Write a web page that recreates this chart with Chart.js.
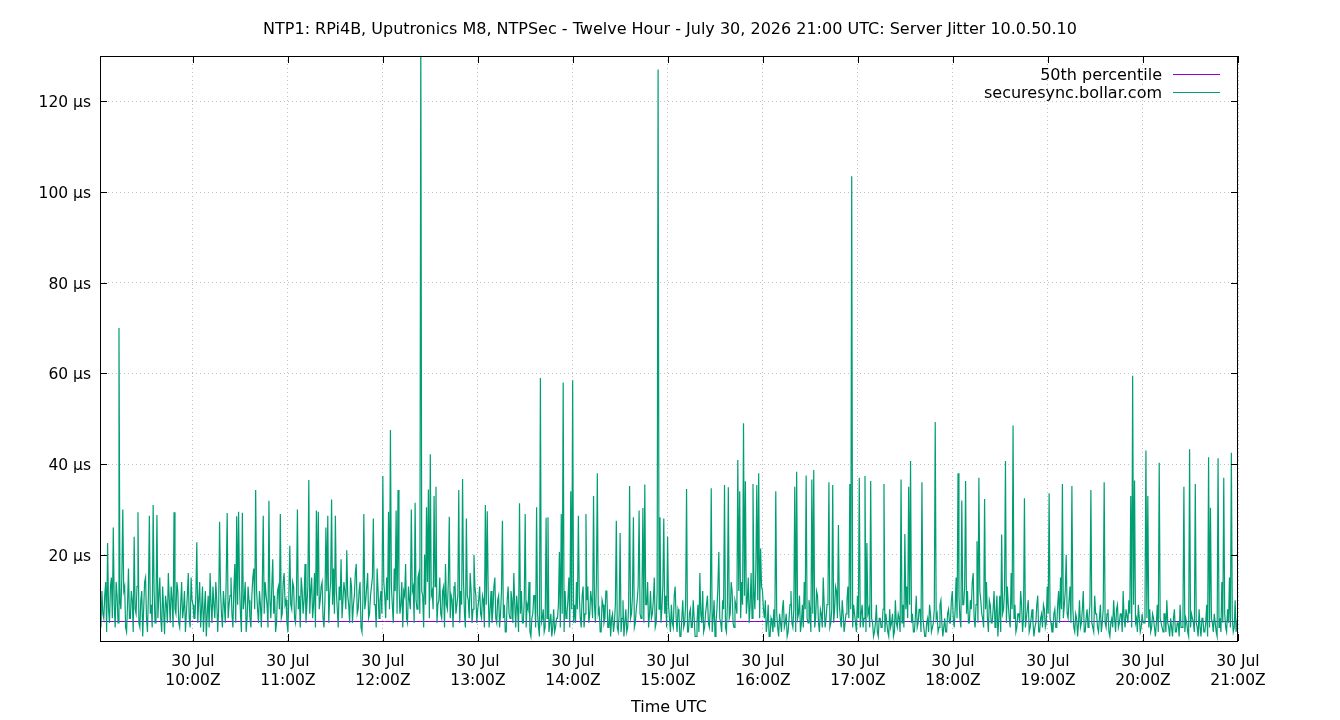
<!DOCTYPE html>
<html>
<head>
<meta charset="utf-8">
<title>Server Jitter 10.0.50.10</title>
<script src="https://cdn.jsdelivr.net/npm/chart.js@4.4.1/dist/chart.umd.min.js"></script>
<style>
    html, body { margin: 0; padding: 0; background: #fff; }
    canvas { display: block; }
</style>
</head>
<body>
<canvas id="jitterChart" width="1340" height="720"></canvas>
<script>
// Jitter samples in µs, one array per hour
const jitter09 = [9, 4, 12, 7, 6, 11, 14, 3, 22.6, 8, 5, 13, 15, 6, 26, 9, 4, 14, 11, 5,
    70, 10, 8, 15, 30, 12, 13, 4, 3, 9, 17, 6, 6, 12, 10, 3, 24, 8, 7, 13,
    29.4, 5, 4, 10, 12, 2, 8, 14, 15, 6, 3, 11, 28.6, 7, 9, 4, 31, 12, 5, 9,
    28.8, 6, 11, 15, 6, 3, 13, 8, 2.5, 11, 9, 5, 16, 10, 5, 13, 10, 4, 29.4, 8,
    7, 14, 12, 5, 4, 9, 14, 6, 8, 12, 3, 7, 11, 16, 6, 4, 15, 10, 9, 6];
const jitter10 = [6, 11, 22.8, 5, 10, 14, 4, 8, 13, 3, 8, 12, 2, 7, 11, 4, 16, 9, 5, 13,
    9, 6, 14, 10, 3, 8, 27.3, 12, 7, 4, 12, 9, 5, 15, 29.2, 6, 9, 11, 15, 7,
    4, 12, 18, 5, 28.5, 9, 29.5, 13, 7, 3, 29.3, 8, 10, 14, 3, 6, 13, 10, 6, 4,
    11, 15, 17, 8, 34.3, 12, 8, 5, 12, 9, 4, 13, 28.6, 7, 14, 11, 9, 4, 31.9, 10,
    6, 13, 19, 7, 11, 3, 5, 12, 13, 8, 29, 6, 7, 14, 16, 9, 10, 5, 3, 11];
const jitter11 = [22, 9, 8, 14, 13, 6, 5, 11, 30, 8, 11, 4, 15, 12, 7, 10, 18, 5, 9, 13,
    36.5, 7, 12, 15, 6, 9, 16, 4, 29.8, 11, 29.5, 8, 10, 13, 14, 6, 4, 10, 26, 12,
    28.6, 5, 11, 14, 32.2, 9, 17, 7, 28.6, 12, 8, 4, 13, 10, 19, 6, 6, 14, 12, 8,
    21, 11, 9, 5, 15, 13, 5, 9, 11, 16, 18, 7, 8, 12, 14, 4, 3, 10, 29, 8,
    10, 13, 16, 6, 7, 11, 13, 15, 28, 9, 9, 4, 17, 12, 6, 10, 12, 7, 37.4, 14];
const jitter12 = [11, 6, 15, 10, 29.5, 8, 47.5, 13, 9, 5, 17, 12, 29.8, 7, 34.3, 14, 7, 9, 14, 4,
    12, 11, 18, 6, 5, 13, 10, 8, 30, 12, 13, 5, 31.5, 10, 8, 15, 16, 7, 135, 12,
    11, 4, 20, 9, 30.5, 14, 34.4, 6, 42.2, 11, 12, 8, 33, 13, 35, 5, 9, 10, 15, 7,
    6, 12, 13, 4, 18, 9, 8, 14, 28.4, 6, 11, 10, 4, 13, 14, 7, 9, 11, 34.3, 5,
    12, 9, 36.7, 14, 7, 4, 28, 11, 10, 6, 16, 12, 5, 8, 20, 13, 11, 5, 8, 10];
const jitter13 = [13, 7, 6, 11, 10, 4, 31, 9, 29.6, 12, 4, 8, 12, 5, 8, 13, 15, 6, 5, 10,
    11, 4, 7, 12, 27.5, 6, 9, 3, 3, 10, 13, 7, 6, 12, 10, 5, 16, 9, 4, 11,
    8, 3, 31.4, 7, 12, 5, 5, 10, 29, 4, 9, 8, 14, 3, 2, 6, 7, 11, 11, 4,
    30.5, 7, 4, 2, 59, 5, 6, 8, 3, 4, 28.2, 6, 28.3, 3, 5, 7, 2, 4, 8, 3,
    4, 6, 6, 9, 20.6, 4, 29, 7, 58, 3, 12, 6, 7, 10, 15, 4, 34, 8, 58.5, 5];
const jitter14 = [9, 5, 14, 8, 28.6, 11, 6, 4, 11, 13, 4, 7, 29, 10, 13, 5, 7, 12, 10, 6,
    33, 9, 5, 14, 38, 7, 8, 3, 3, 10, 9, 5, 6, 12, 12, 4, 4, 8, 2, 6,
    7, 3, 5, 9, 27.5, 4, 3, 7, 24.8, 3, 6, 10, 2, 5, 8, 3, 4, 9, 35.2, 6,
    7, 11, 28.3, 4, 5, 8, 10, 13, 29.8, 7, 6, 11, 30.3, 5, 35.5, 9, 9, 14, 4, 7,
    12, 6, 7, 10, 15, 4, 5, 12, 127, 8, 28.3, 5, 8, 13, 28, 7, 11, 4, 24, 9];
const jitter15 = [6, 3, 9, 5, 4, 11, 13, 6, 3, 8, 7, 2, 2, 6, 10, 4, 5, 9, 34.5, 3,
    3, 7, 8, 4, 4, 10, 6, 2, 2, 5, 9, 3, 16, 7, 5, 12, 3, 4, 7, 9,
    11, 5, 4, 8, 34.7, 3, 6, 10, 2, 5, 8, 13, 20.6, 6, 5, 3, 10, 8, 35.4, 4,
    3, 9, 34.9, 6, 7, 14, 12, 5, 4, 10, 9, 7, 40.9, 12, 34, 6, 14, 9, 49, 11,
    36.2, 7, 10, 15, 5, 9, 16, 6, 35.6, 12, 8, 17, 35.4, 10, 38, 6, 21.4, 13, 12, 8];
const jitter16 = [6, 10, 3, 5, 9, 2, 2, 6, 5, 3, 8, 4, 34, 7, 4, 2, 7, 5, 3, 8,
    10, 4, 5, 7, 2, 3, 6, 9, 12, 5, 4, 8, 35, 3, 38.3, 6, 7, 11, 3, 5,
    9, 4, 14, 8, 37.5, 6, 5, 10, 8, 3, 36.6, 7, 38.7, 4, 6, 12, 11, 5, 3, 8,
    7, 4, 15, 9, 4, 6, 9, 11, 36, 4, 5, 8, 35.4, 5, 8, 13, 12, 6, 26.6, 9,
    6, 4, 10, 7, 3, 5, 7, 10, 13, 6, 35.6, 8, 103.5, 4, 9, 7, 5, 3, 11, 6];
const jitter17 = [37, 4, 7, 9, 4, 6, 37.4, 3, 22.6, 7, 8, 4, 36.3, 6, 5, 2, 3, 5, 9, 3,
    2, 6, 6, 4, 4, 8, 35.6, 3, 7, 5, 3, 2, 8, 4, 5, 7, 2, 3, 10, 5,
    4, 7, 6, 3, 36.6, 5, 9, 4, 24.6, 8, 13, 6, 35, 9, 40.7, 5, 7, 3, 3, 6,
    11, 4, 5, 8, 8, 3, 36, 6, 4, 2, 2, 5, 6, 3, 9, 7, 3, 4, 5, 8,
    49.3, 6, 7, 3, 4, 9, 10, 5, 2, 4, 6, 3, 3, 7, 8, 5, 5, 10, 12, 6];
const jitter18 = [4, 8, 15, 6, 38, 11, 6, 4, 32, 9, 9, 13, 36.3, 7, 12, 5, 5, 10, 8, 14,
    16, 6, 4, 9, 23, 5, 37, 12, 10, 7, 6, 4, 32.3, 8, 14, 6, 3, 10, 9, 5,
    5, 8, 12, 4, 7, 11, 2, 6, 11, 3, 24.5, 7, 8, 12, 40.7, 5, 13, 9, 6, 4,
    16, 8, 48.5, 6, 9, 3, 4, 7, 7, 5, 12, 9, 3, 6, 32.5, 4, 6, 8, 10, 3,
    4, 6, 8, 5, 2, 4, 5, 9, 11, 3, 3, 6, 7, 4, 9, 8, 4, 5, 13, 7];
const jitter19 = [33.6, 6, 5, 3, 3, 7, 8, 4, 4, 9, 12, 5, 15, 8, 35.6, 6, 9, 12, 20, 7,
    6, 10, 13, 5, 35.2, 8, 4, 3, 7, 6, 2, 5, 10, 4, 5, 8, 12, 3, 3, 6,
    8, 4, 6, 9, 34.3, 5, 4, 3, 11, 7, 7, 4, 3, 6, 9, 3, 5, 8, 36, 5,
    4, 7, 8, 3, 2, 5, 6, 4, 10, 6, 3, 8, 9, 4, 5, 7, 7, 3, 12, 6,
    4, 8, 8, 5, 10, 7, 33, 4, 59.5, 9, 36.4, 5, 6, 3, 9, 6, 3, 4, 7, 5];
const jitter20 = [5, 8, 43, 6, 33, 4, 8, 3, 4, 7, 6, 4, 2, 5, 9, 3, 40.3, 6, 5, 4,
    3, 7, 7, 3, 10, 5, 4, 2, 6, 4, 2, 6, 8, 3, 3, 5, 5, 2, 9, 4,
    4, 6, 35, 3, 6, 5, 3, 2, 43.3, 4, 7, 6, 5, 3, 35.6, 5, 4, 2, 8, 4,
    2, 6, 6, 3, 3, 5, 9, 2, 41.5, 4, 30.4, 6, 5, 3, 7, 5, 3, 2, 41.3, 4,
    6, 3, 14, 5, 37, 7, 4, 3, 8, 5, 15, 4, 42.5, 6, 3, 4, 10, 3, 5, 7];

const percentile50 = 5.3;
const hourTicks = [10, 11, 12, 13, 14, 15, 16, 17, 18, 19, 20, 21];
const tickDay = '30 Jul';
const yTicks = [20, 40, 60, 80, 100, 120];

const startHour = 9 + 1.3 / 60;
const endHour = 21;

const jitter = [].concat(jitter09, jitter10, jitter11, jitter12, jitter13, jitter14,
    jitter15, jitter16, jitter17, jitter18, jitter19, jitter20);
const step = (endHour - startHour) / (jitter.length - 1);
const jitterPoints = jitter.map((v, i) => ({ x: startHour + i * step, y: v }));

const TITLE = 'NTP1: RPi4B, Uputronics M8, NTPSec - Twelve Hour - July 30, 2026 21:00 UTC: Server Jitter 10.0.50.10';
const GREEN = '#009e73';
const PURPLE = '#9400d3';
const FONT = "'DejaVu Sans', sans-serif";

Chart.defaults.font.family = FONT;
Chart.defaults.font.size = 15.5;
Chart.defaults.color = '#000';

// gnuplot style frame: title, border box, inward ticks on all four sides, key top right
const framePlugin = {
    id: 'frame',
    afterDraw(chart) {
        const { ctx, chartArea: a, scales } = chart;
        const tick = 7;
        ctx.save();

        ctx.fillStyle = '#000';
        ctx.font = '16px ' + FONT;
        ctx.textAlign = 'center';
        ctx.textBaseline = 'middle';
        ctx.fillText(TITLE, 670, 30);

        ctx.strokeStyle = '#000';
        ctx.lineWidth = 1;
        ctx.beginPath();
        hourTicks.forEach(h => {
            const px = Math.round(scales.x.getPixelForValue(h)) + 0.5;
            ctx.moveTo(px, a.bottom);
            ctx.lineTo(px, a.bottom - tick);
            ctx.moveTo(px, a.top);
            ctx.lineTo(px, a.top + tick);
        });
        yTicks.forEach(v => {
            const py = Math.round(scales.y.getPixelForValue(v)) + 0.5;
            ctx.moveTo(a.left, py);
            ctx.lineTo(a.left + tick, py);
            ctx.moveTo(a.right, py);
            ctx.lineTo(a.right - tick, py);
        });
        ctx.stroke();
        ctx.strokeRect(a.left + 0.5, a.top + 0.5, a.right - a.left - 1, a.bottom - a.top);

        // key
        const keyItems = chart.data.datasets.slice().reverse();
        ctx.textAlign = 'right';
        keyItems.forEach((ds, i) => {
            const ky = 76 + i * 18;
            ctx.fillStyle = '#000';
            ctx.fillText(ds.label, 1162, ky);
            ctx.strokeStyle = ds.borderColor;
            ctx.beginPath();
            ctx.moveTo(1173, ky - 1.5);
            ctx.lineTo(1220, ky - 1.5);
            ctx.stroke();
        });
        ctx.restore();
    }
};

const ctx = document.getElementById('jitterChart').getContext('2d');
new Chart(ctx, {
    type: 'line',
    data: {
        datasets: [{
            label: 'securesync.bollar.com',
            data: jitterPoints,
            borderColor: GREEN,
            borderWidth: 1.2,
            pointRadius: 0,
            tension: 0,
            fill: false
        }, {
            label: '50th percentile',
            data: [{ x: startHour, y: percentile50 }, { x: endHour, y: percentile50 }],
            borderColor: PURPLE,
            borderWidth: 1,
            pointRadius: 0,
            fill: false
        }]
    },
    options: {
        responsive: false,
        animation: false,
        events: [],
        layout: { padding: { left: 0, right: 102, top: 56, bottom: 0 } },
        plugins: {
            legend: { display: false },
            tooltip: { enabled: false },
            title: { display: false }
        },
        scales: {
            x: {
                type: 'linear',
                min: startHour,
                max: endHour,
                afterBuildTicks: scale => { scale.ticks = hourTicks.map(v => ({ value: v })); },
                afterFit: scale => { scale.height = 79; },
                ticks: {
                    autoSkip: false,
                    maxRotation: 0,
                    padding: 12,
                    callback: v => [tickDay, v + ':00Z']
                },
                grid: { color: '#c0c0c0', lineWidth: 1, drawTicks: false },
                border: { display: false, dash: [1, 3] },
                title: {
                    display: true,
                    text: 'Time UTC',
                    font: { size: 16 },
                    padding: { top: 0, bottom: 3 }
                }
            },
            y: {
                min: 1,
                max: 130,
                afterBuildTicks: scale => { scale.ticks = yTicks.map(v => ({ value: v })); },
                afterFit: scale => { scale.width = 100; },
                ticks: {
                    padding: 9,
                    labelOffset: 2,
                    callback: v => v + ' µs'
                },
                grid: { color: '#c0c0c0', lineWidth: 1, drawTicks: false },
                border: { display: false, dash: [1, 3] }
            }
        }
    },
    plugins: [framePlugin]
});
</script>
</body>
</html>
